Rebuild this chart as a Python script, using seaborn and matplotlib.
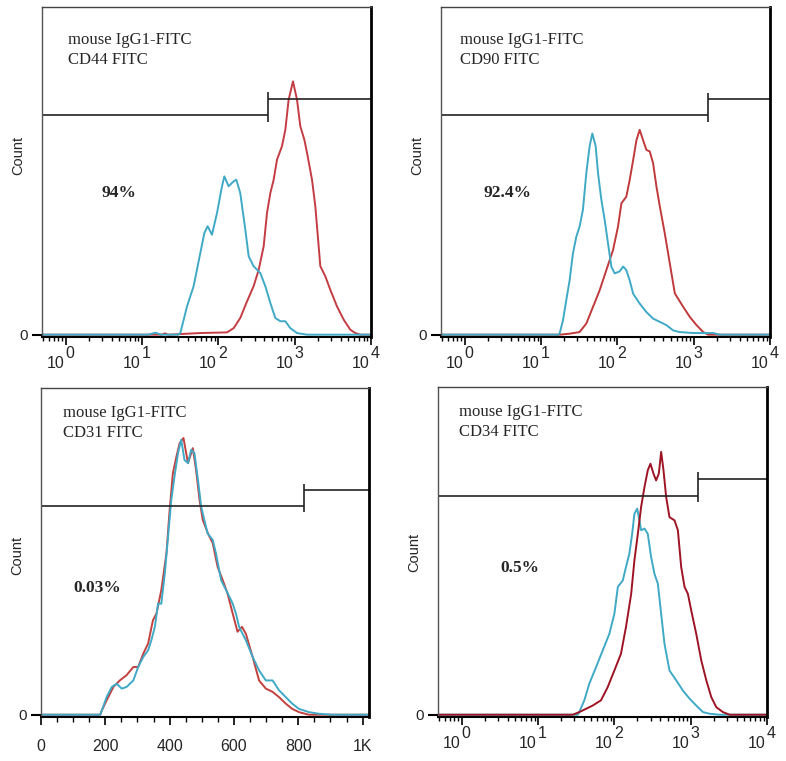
import matplotlib
matplotlib.use("Agg")
import matplotlib.pyplot as plt
import seaborn as sns

# ---- data (x = FITC intensity, y = relative count) ----

# CD44 (top left)
cd44_iso_x = [0.5, 12, 15, 18, 30, 31.8, 38.9, 47.5, 58.1, 65.6, 72.5, 82.6, 96.1, 111.8, 120,
              136.5, 158.8, 172, 194, 226, 250, 290, 355, 413, 480, 558, 649, 755, 877, 1074,
              1452, 10000]
cd44_iso_y = [0, 0, 0.6, 0, 0, 0.5, 8.6, 14.8, 24.9, 31.0, 33.1, 30.5, 37.1, 45.3, 48.3,
              45.3, 46.8, 47.3, 43.2, 32.0, 23.9, 20.9, 18.8, 14.8, 9.7, 5.1, 4.1, 4.1, 2.0, 0.5,
              0, 0]
cd44_pos_x = [0.5, 18, 20, 22, 58, 130, 159, 194, 238, 290, 338, 393, 434, 480, 531, 587, 682,
              755, 834, 951, 1074, 1187, 1340, 1452, 1688, 1866, 2169, 2523, 2932, 3589,
              4385, 5359, 6237, 7250, 10000]
cd44_pos_y = [0, 0, 0.4, 0, 0.5, 0.7, 2.0, 5.1, 10.2, 14.8, 19.8, 27.0, 37.1, 43.2, 47.3, 53.4,
              57.5, 62.5, 71.7, 77.3, 71.7, 63.6, 59.5, 55.5, 47.3, 39.2, 20.9, 17.8, 13.7,
              8.6, 4.6, 1.5, 0.5, 0, 0]

# CD90 (top right)
cd90_iso_x = [0.5, 16.6, 17.5, 19.4, 21.4, 23.7, 26.2, 29.0, 32.0, 35.4, 39.2, 43.3, 47.0,
              52.0, 55.8, 61.7, 68.2, 75.4, 83.4, 92.2, 107, 119, 131, 145, 161, 196, 240,
              294, 360, 440, 538, 658, 985, 1803, 2206, 10000]
cd90_iso_y = [0, 0, 0.3, 4.4, 10.5, 16.6, 24.8, 29.9, 33.0, 38.1, 49.3, 57.5, 61.4,
              57.5, 49.3, 41.2, 35.0, 27.9, 20.8, 18.7, 19.3, 20.8, 19.7, 16.6, 12.5, 9.5, 6.9,
              4.9, 3.9, 2.9, 1.3, 0.8, 0.5, 0.5, 0, 0]
cd90_pos_x = [0.5, 17.5, 23.7, 32, 39.2, 48, 58.7, 71.7, 87.7, 102, 113, 131, 145, 161, 178,
              196, 217, 240, 266, 294, 325, 360, 418, 486, 566, 728, 891, 1089, 1333, 1550,
              10000]
cd90_pos_y = [0, 0, 0.3, 0.8, 3.4, 8.5, 13.6, 19.7, 25.8, 33.0, 40.1, 42.1, 47.2, 53.3, 59.4,
              62.5, 59.4, 56.4, 55.9, 52.3, 45.2, 39.1, 30.9, 21.8, 12.6, 8.5, 5.4, 2.9, 0.8,
              0, 0]

# CD31 (bottom left, linear axis)
cd31_iso_x = [0, 184, 189, 204, 220, 235, 251, 266, 287, 302, 318, 333, 343, 354, 364, 374,
              385, 395, 405, 415, 426, 436, 446, 457, 467, 477, 488, 498, 508, 518, 534, 544,
              560, 570, 586, 596, 606, 616, 637, 658, 678, 699, 720, 740, 761, 781, 802, 833,
              864, 905, 1020]
cd31_iso_y = [0, 0, 1.3, 5.4, 8.5, 9.5, 8.0, 8.5, 10.5, 14.6, 17.7, 19.7, 22.8, 26.9, 34.0,
              34.0, 43.3, 54.5, 65.7, 72.9, 80.1, 84.2, 78.0, 77.0, 81.1, 80.1, 71.9, 63.7,
              59.6, 55.5, 53.5, 49.4, 41.2, 39.2, 36.1, 34.0, 31.0, 26.9, 22.8, 17.7, 13.6,
              10.5, 10.5, 7.5, 5.4, 3.4, 1.8, 0.8, 0.3, 0, 0]
cd31_pos_x = [0, 184, 189, 204, 225, 245, 266, 287, 302, 318, 333, 348, 359, 374, 390, 400,
              410, 421, 431, 443, 457, 472, 482, 493, 503, 519, 534, 549, 565, 580, 596, 611,
              625, 637, 658, 678, 699, 720, 740, 761, 781, 802, 833, 1020]
cd31_pos_y = [0, 0, 1.3, 4.4, 8.5, 10.5, 12.1, 14.6, 14.6, 18.7, 21.8, 28.9, 31.0, 38.1,
              49.4, 62.7, 73.9, 79.0, 83.1, 84.7, 77.0, 81.6, 75.0, 65.7, 59.6, 55.5, 52.5,
              45.3, 41.2, 37.1, 31.0, 25.4, 26.9, 24.8, 17.7, 10.5, 8.0, 7.0, 5.4, 3.4, 1.8,
              0.8, 0, 0]

# CD34 (bottom right)
cd34_iso_x = [0.5, 33, 34.7, 40.4, 47, 57.5, 70.3, 86, 100, 111, 129, 142, 157, 171, 183,
              199, 213, 224, 248, 274, 303, 335, 371, 410, 453, 527, 645, 789, 966, 1181,
              1445, 1767, 2391, 10000]
cd34_iso_y = [0, 0, 0.8, 4.4, 9.5, 14.5, 19.6, 24.7, 30.8, 39.0, 41.0, 45.1, 49.1, 55.2, 61.3,
              62.9, 59.3, 56.3, 56.8, 55.2, 48.1, 43.0, 40.0, 30.8, 21.7, 13.5, 10.5, 7.4,
              4.9, 2.8, 0.8, 0.3, 0, 0]
cd34_pos_x = [0.5, 28.4, 34.7, 42.5, 52, 66.8, 81.7, 100, 122, 142, 166, 183, 203, 224, 248,
              274, 297, 325, 352, 382, 410, 440, 477, 527, 614, 679, 750, 830, 918, 1016,
              1181, 1374, 1600, 1858, 2162, 2642, 3236, 10000]
cd34_pos_y = [0, 0, 0.8, 1.8, 2.8, 4.4, 8.4, 13.5, 18.6, 26.8, 36.9, 47.1, 55.2, 63.4, 69.5,
              74.6, 76.6, 73.6, 71.5, 73.6, 80.2, 74.6, 66.4, 60.3, 59.3, 56.3, 45.1, 39.0,
              36.9, 31.8, 24.7, 16.6, 10.5, 5.4, 2.3, 0.8, 0, 0]

# gate markers: position, left bar level, right bar level, bracket bottom/top
gate_x = [450, 1520, 817, 1240]
gate_left = [67.0, 66.9, 64.0, 66.9]
gate_right = [72.0, 72.0, 68.8, 72.0]
gate_lo = [64.9, 65.0, 62.2, 65.0]
gate_hi = [74.0, 73.8, 70.7, 74.0]

markers = ["CD44 FITC", "CD90 FITC", "CD31 FITC", "CD34 FITC"]
percents = ["94%", "92.4%", "0.03%", "0.5%"]

iso_color = "#3fa9c6"
pos_colors = ["#c43c44", "#c03a3c", "#c2403e", "#9e1424"]

# ---- figure ----
sns.set_style("white")
plt.rcParams["font.family"] = ["Liberation Sans", "DejaVu Sans"]

fig = plt.figure(figsize=(7.86, 7.61), dpi=100)
boxes = [
    [0.0534, 0.5572, 0.4186, 0.4336],
    [0.5611, 0.5572, 0.4186, 0.4336],
    [0.0522, 0.0578, 0.4173, 0.4323],
    [0.5573, 0.0578, 0.4186, 0.4336],
]
curves = [
    (cd44_iso_x, cd44_iso_y, cd44_pos_x, cd44_pos_y),
    (cd90_iso_x, cd90_iso_y, cd90_pos_x, cd90_pos_y),
    (cd31_iso_x, cd31_iso_y, cd31_pos_x, cd31_pos_y),
    (cd34_iso_x, cd34_iso_y, cd34_pos_x, cd34_pos_y),
]
text_pos = [(0.079, 0.90, 0.84, 0.182, 0.436),
            (0.058, 0.90, 0.84, 0.128, 0.436),
            (0.067, 0.924, 0.863, 0.100, 0.392),
            (0.064, 0.924, 0.863, 0.188, 0.452)]
count_y = [0.55, 0.55, 0.49, 0.50]
serif = ["Liberation Serif", "DejaVu Serif"]

for i in range(4):
    ax = fig.add_axes(boxes[i])
    iso_x, iso_y, pos_x, pos_y = curves[i]
    log_axis = i != 2

    if log_axis:
        ax.set_xscale("log")
        x_left, x_right = 0.49, 10000
    else:
        x_left, x_right = 0, 1020

    # marker first, isotype on top (except CD34, where red sits over blue)
    if i == 3:
        sns.lineplot(x=iso_x, y=iso_y, ax=ax, color=iso_color, lw=1.4,
                     estimator=None, sort=False)
        sns.lineplot(x=pos_x, y=pos_y, ax=ax, color=pos_colors[i], lw=1.4,
                     estimator=None, sort=False)
    else:
        sns.lineplot(x=pos_x, y=pos_y, ax=ax, color=pos_colors[i], lw=1.4,
                     estimator=None, sort=False)
        sns.lineplot(x=iso_x, y=iso_y, ax=ax, color=iso_color, lw=1.4,
                     estimator=None, sort=False)

    # gate bracket
    ax.hlines(gate_left[i], x_left, gate_x[i], color="#222222", lw=1.2)
    ax.hlines(gate_right[i], gate_x[i], x_right, color="#222222", lw=1.2)
    ax.vlines(gate_x[i], gate_lo[i], gate_hi[i], color="#222222", lw=1.2)

    ax.set_xlim(x_left, x_right)
    ax.set_ylim(-0.7, 100)

    # frame
    ax.spines["left"].set_color("#555555")
    ax.spines["left"].set_linewidth(1.0)
    ax.spines["top"].set_color("#444444")
    ax.spines["top"].set_linewidth(1.0)
    ax.spines["right"].set_color("black")
    ax.spines["right"].set_linewidth(2.0)
    ax.spines["bottom"].set_color("black")
    ax.spines["bottom"].set_linewidth(1.5)

    # y axis: only the zero tick
    ax.set_yticks([0])
    ax.set_yticklabels(["0"])
    ax.tick_params(axis="y", direction="out", length=7.5, width=1.5, pad=3,
                   labelsize=11, left=True, color="black")
    ax.set_ylabel("Count", fontsize=10.5)
    ax.yaxis.set_label_coords(-0.05, count_y[i])

    if log_axis:
        ax.xaxis.set_major_locator(matplotlib.ticker.LogLocator(base=10, numticks=10))
        ax.xaxis.set_minor_locator(matplotlib.ticker.LogLocator(
            base=10, subs=[2, 3, 4, 5, 6, 7, 8, 9], numticks=20))
        ax.xaxis.set_major_formatter(matplotlib.ticker.NullFormatter())
        ax.xaxis.set_minor_formatter(matplotlib.ticker.NullFormatter())
        ax.tick_params(axis="x", which="major", direction="out", length=5.5,
                       width=1.2, bottom=True, color="black")
        ax.tick_params(axis="x", which="minor", direction="out", length=3,
                       width=1.0, bottom=True, color="black")
        for e in range(5):
            ax.annotate("10", xy=(10 ** e, 0), xycoords=("data", "axes fraction"),
                        xytext=(-1, -13.5), textcoords="offset points",
                        ha="right", va="top", fontsize=11.5)
            ax.annotate(str(e), xy=(10 ** e, 0), xycoords=("data", "axes fraction"),
                        xytext=(0, -6.5), textcoords="offset points",
                        ha="left", va="top", fontsize=11.5)
    else:
        ax.set_xticks([0, 200, 400, 600, 800, 1000])
        ax.set_xticklabels(["0", "200", "400", "600", "800", "1K"])
        ax.xaxis.set_minor_locator(matplotlib.ticker.MultipleLocator(50))
        ax.tick_params(axis="x", which="major", direction="out", length=6,
                       width=1.2, pad=10, labelsize=11.5, bottom=True, color="black")
        ax.tick_params(axis="x", which="minor", direction="out", length=3.5,
                       width=1.0, bottom=True, color="black")

    tx, ty1, ty2, px_, py_ = text_pos[i]
    ax.text(tx, ty1, "mouse IgG1-FITC", transform=ax.transAxes, fontsize=12,
            family=serif, va="center", ha="left")
    ax.text(tx, ty2, markers[i], transform=ax.transAxes, fontsize=12,
            family=serif, va="center", ha="left")
    ax.text(px_, py_, percents[i], transform=ax.transAxes, fontsize=12.5,
            family=serif, fontweight="bold", va="center", ha="left")

fig.savefig("out.png", dpi=100)
